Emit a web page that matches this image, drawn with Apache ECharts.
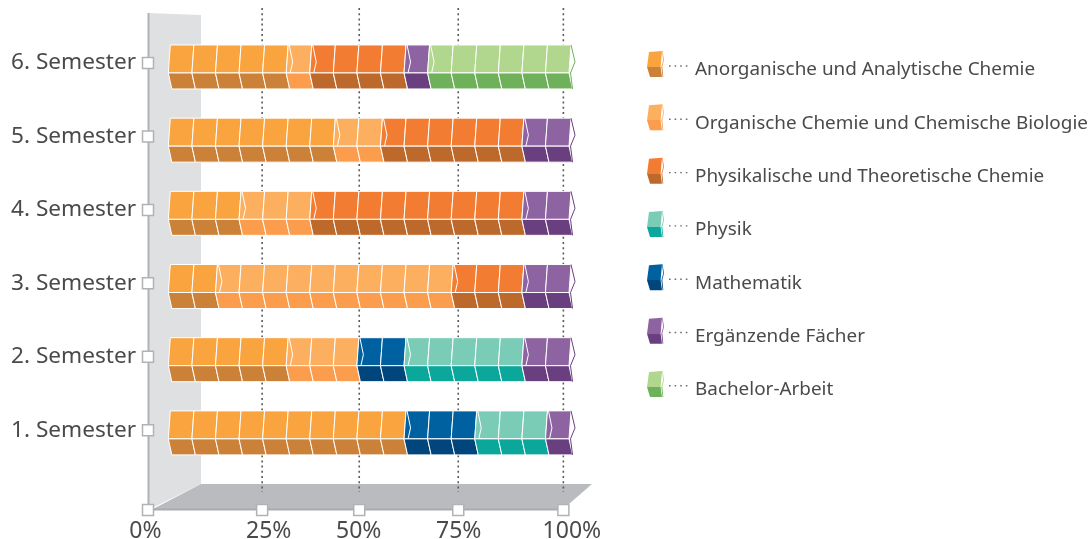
<!DOCTYPE html>
<html><head><meta charset="utf-8">
<style>html,body{margin:0;padding:0;background:#fff}#c{width:1090px;height:539px}</style>
<script src="https://cdn.jsdelivr.net/npm/echarts@6/dist/echarts.min.js"></script>
</head><body><div id="c"></div>
<script>
// Rows, bottom to top. Values: number of course blocks per semester (17 blocks = 100%).
const semesters = [1, 2, 3, 4, 5, 6];
const semesterLabels = ['1. Semester', '2. Semester', '3. Semester', '4. Semester', '5. Semester', '6. Semester'];
const anorganisch = [10, 5, 2, 3, 7, 5];
const organisch   = [0, 3, 10, 3, 2, 1];
const physChemie  = [0, 0, 3, 9, 6, 4];
const mathematik  = [3, 2, 0, 0, 0, 0];
const physik      = [3, 5, 0, 0, 0, 0];
const ergaenzend  = [1, 2, 2, 2, 2, 1];
const bachelor    = [0, 0, 0, 0, 0, 6];
// Stack order differs from legend order: Mathematik comes before Physik in the bars.
const stackOrder = ['Anorganische und Analytische Chemie', 'Organische Chemie und Chemische Biologie',
  'Physikalische und Theoretische Chemie', 'Mathematik', 'Physik', 'Ergänzende Fächer', 'Bachelor-Arbeit'];
const legendOrder = ['Anorganische und Analytische Chemie', 'Organische Chemie und Chemische Biologie',
  'Physikalische und Theoretische Chemie', 'Physik', 'Mathematik', 'Ergänzende Fächer', 'Bachelor-Arbeit'];
const seriesValues = [anorganisch, organisch, physChemie, mathematik, physik, ergaenzend, bachelor];
const topColors = {'Anorganische und Analytische Chemie':'#f9a43f','Organische Chemie und Chemische Biologie':'#fcb05f',
  'Physikalische und Theoretische Chemie':'#f27d32','Physik':'#7bccb6','Mathematik':'#0061a1','Ergänzende Fächer':'#8e63a1','Bachelor-Arbeit':'#b0d78d'};
const bottomColors = {'Anorganische und Analytische Chemie':'#cb8238','Organische Chemie und Chemische Biologie':'#fb9d4d',
  'Physikalische und Theoretische Chemie':'#bd692c','Physik':'#0ba79a','Mathematik':'#00457b','Ergänzende Fächer':'#693f80','Bachelor-Arbeit':'#6fb05a'};
// Axis ticks, in block units of the bar scale (the reference's tick marks are not evenly spaced)
const xTickLabels = ['0%', '25%', '50%', '75%', '100%'];
const xTickValues = [-0.862, 3.98, 8.10, 12.30, 16.76];
const xLabelValues = [-0.97, 4.26, 8.08, 12.32, 17.12];

const AXIS_X0 = xTickValues[0], FLOOR_Y = -0.085;
const chart = echarts.init(document.getElementById('c'));
const FONT = 'Noto Sans', TEXT = '#4a4a4a', EDGE = '#b0b2b4';

function segmentRender(name) {
  const top = topColors[name], bot = bottomColors[name];
  return function (params, api) {
    const s = api.value(0), e = api.value(1), row = api.value(2), kids = [];
    // the bars sit on a slightly tighter pitch than the tick marks
    const cy = api.coord([s, row])[1] - (6 - row) * 0.28;
    const yt = cy - 18, ym = cy + 10, yb = cy + 26;
    const line = { stroke: '#fff', lineWidth: 1, fill: top };
    for (let k = s; k < e; k++) {
      const a = api.coord([k, row])[0], b = api.coord([k + 1, row])[0];
      kids.push({ type: 'polygon', shape: { points: [[a + 2, yt], [b + 2, yt], [b, ym], [a, ym]] }, style: line });
      kids.push({ type: 'polygon', shape: { points: [[a, ym], [b, ym], [b + 3.5, yb], [a + 3.5, yb]] },
        style: { stroke: '#fff', lineWidth: 1, fill: bot } });
    }
    const x0 = api.coord([s, row])[0], x1 = api.coord([e, row])[0];
    if (s > 0) {
      kids.push({ type: 'polyline', shape: { points: [[x0 + 3, yt], [x0 + 6.5, yt + 17], [x0 + 4, ym]] },
        style: { stroke: '#fff', lineWidth: 1, fill: null } });
    }
    if (e >= 17) {
      kids.push({ type: 'polyline', shape: { points: [[x1 + 2, yt], [x1 + 6, yt + 17], [x1 + 1.5, ym], [x1 + 3.5, yb]] },
        style: { stroke: bot, lineWidth: 1, fill: null } });
    }
    return { type: 'group', children: kids };
  };
}

const series = [];
// dotted reference lines
series.push({
  type: 'custom', silent: true, clip: false, z: 1,
  data: xTickValues.slice(1).map(v => [v]),
  encode: { x: 0 },
  renderItem(params, api) {
    const x = api.coord([api.value(0), 1])[0];
    return { type: 'line', shape: { x1: x, y1: 8, x2: x, y2: 492 },
      style: { stroke: '#58595b', lineWidth: 1.6, lineDash: [2, 3.2] } };
  }
});
// stacked blocks
const running = semesters.map(() => 0);
stackOrder.forEach((name, i) => {
  const data = [];
  seriesValues[i].forEach((v, r) => {
    if (v > 0) data.push([running[r], running[r] + v, semesters[r]]);
    running[r] += v;
  });
  series.push({ type: 'custom', name, z: 3, clip: false, silent: true, data,
    encode: { x: [0, 1], y: 2 }, itemStyle: { color: topColors[name] }, renderItem: segmentRender(name) });
});
// square tick markers
const squareStyle = { color: '#fff', borderColor: EDGE, borderWidth: 1.5, opacity: 1 };
series.push({ type: 'scatter', silent: true, clip: false, z: 5, symbol: 'rect', symbolSize: 11, itemStyle: squareStyle,
  data: semesters.map(r => [AXIS_X0, r]).concat(xTickValues.map(v => [v, FLOOR_Y])) });

// Block icon in a 17x38 box: the block fills the upper 26 units, the last empty subpath keeps the box tall
// so that the text lines up lower than the block's centre, as in the reference.
const icon = 'path://M2,1L15,0L13.6,16L15,26L3,26L0,16ZM15.6,0L17,9L15.3,16L16.3,26L15.6,26L14.4,16L16.2,9L15,0ZM0,38L0.01,38L0,38Z';
const legendData = legendOrder.map(name => ({
  name,
  itemStyle: { color: { type: 'linear', x: 0, y: 0, x2: 0, y2: 1, colorStops: [
    { offset: 0, color: topColors[name] }, { offset: 0.42, color: topColors[name] },
    { offset: 0.42, color: bottomColors[name] }, { offset: 1, color: bottomColors[name] }] } }
}));

const graphic = [
  { type: 'polygon', z: -3, silent: true, shape: { points: [[148, 13], [201, 15], [201, 484], [148, 510]] }, style: { fill: '#dfe0e2' } },
  { type: 'polygon', z: -2, silent: true, shape: { points: [[153, 509], [201, 484], [592, 484], [569, 504], [569, 510], [153, 510]] }, style: { fill: '#babbbe' } },
  { type: 'line', z: -1, silent: true, shape: { x1: 148, y1: 509.5, x2: 569, y2: 509.5 }, style: { stroke: '#a9abae', lineWidth: 2 } },
  { type: 'line', z: -1, silent: true, shape: { x1: 148.5, y1: 13, x2: 148.5, y2: 510 }, style: { stroke: EDGE, lineWidth: 2 } }
];
legendOrder.forEach((n, i) => {
  const y = 66 + i * 53.3;
  graphic.push({ type: 'line', silent: true, shape: { x1: 669, y1: y, x2: 688, y2: y },
    style: { stroke: '#6d6e71', lineWidth: 1.4, lineDash: [1.6, 4] } });
});

chart.setOption({
  animation: false,
  grid: { left: 144.75, right: 1090 - 592.6, top: 13, bottom: 539 - 510, containLabel: false, outerBoundsMode: 'none' },
  xAxis: {
    type: 'value', min: -1, max: 18, splitLine: { show: false },
    axisLine: { show: false }, axisTick: { show: false },
    axisLabel: { customValues: xLabelValues, formatter: v => xTickLabels[xLabelValues.indexOf(v)] || '',
      fontFamily: FONT, fontSize: 23, color: TEXT, margin: 10, showMinLabel: true, showMaxLabel: true }
  },
  yAxis: {
    type: 'value', min: FLOOR_Y, max: 6.68, splitLine: { show: false },
    axisLine: { show: false }, axisTick: { show: false },
    axisLabel: { customValues: semesters, formatter: v => semesterLabels[semesters.indexOf(v)] || '',
      fontFamily: FONT, fontSize: 22.6, color: TEXT, margin: 8.75 }
  },
  legend: {
    orient: 'vertical', left: 642, top: 46, itemWidth: 17, itemHeight: 38, itemGap: 15.33,
    icon, selectedMode: false, data: legendData,
    textStyle: { fontFamily: FONT, fontSize: 18.9, color: TEXT, padding: [0, 0, 0, 26] }
  },
  graphic,
  series
});
</script></body></html>
